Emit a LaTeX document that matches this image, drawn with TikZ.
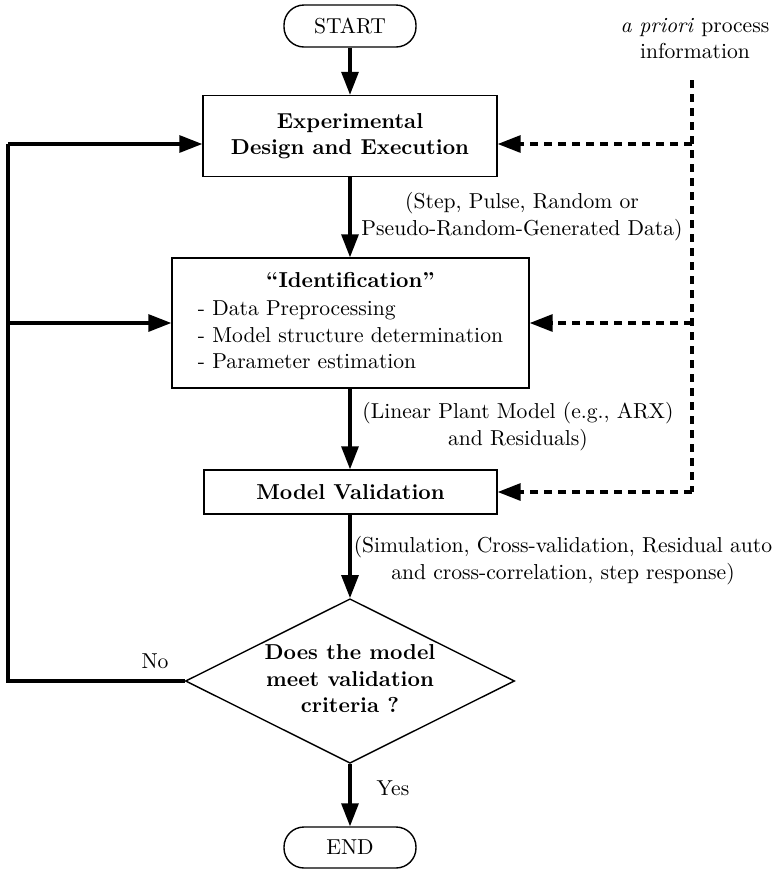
\documentclass[tikz,border=0pt]{standalone}
\usetikzlibrary{arrows.meta,shapes.geometric,calc}
\begin{document}
\begin{tikzpicture}[x=0.5pt,y=-0.5pt,
  every node/.append style={font=\fontsize{10.8}{13.2}\selectfont},
  term/.style={draw,line width=0.7pt,rounded corners=10pt,minimum width=66pt,minimum height=21pt,inner sep=0pt},
  procbox/.style={draw,line width=0.7pt,inner sep=0pt,align=center},
  decision/.style={draw,line width=0.7pt,diamond,aspect=2,inner sep=0pt,minimum width=163pt,minimum height=81.5pt,font=\fontsize{10.8}{13.2}\selectfont\bfseries},
  flow/.style={line width=1.6pt,-{Triangle[length=11.5pt,width=8.5pt]}},
  rail/.style={line width=1.6pt},
  info/.style={line width=1.6pt,dash pattern=on 4pt off 3pt},
  infoarrow/.style={info,-{Triangle[length=11.5pt,width=8.5pt]}},
  lbl/.style={align=center,inner sep=0pt}
]
\useasboundingbox (0,0) rectangle (779,869);

% main chain of steps
\node[term] (start) at (350,26) {START};
\node[procbox,minimum width=147pt,minimum height=40.5pt,font=\fontsize{10.8}{13.2}\selectfont\bfseries] (design) at (350,136) {Experimental\\Design and Execution};
\node[procbox,minimum width=178.5pt,minimum height=65pt] (ident) at (350.5,323)
  {\begin{tabular}{@{}l@{}}\multicolumn{1}{@{}c@{}}{\textbf{``Identification''}}\\[0.7pt]
   - Data Preprocessing\\ - Model structure determination\\ - Parameter estimation\end{tabular}};
\node[procbox,minimum width=146.5pt,minimum height=22pt,font=\fontsize{10.8}{13.2}\selectfont\bfseries] (valid) at (350.5,492) {Model Validation};
\node[decision] (check) at (350,681)
  {\raisebox{-2.5pt}{\begin{tabular}{@{}c@{}}Does the model\\meet validation\\criteria ?\end{tabular}}};
\node[term,minimum height=20.5pt] (finish) at (350,847.5) {END};

% forward arrows
\draw[flow] (start.south) -- (design.north);
\draw[flow] (design.south) -- (design.south |- ident.north);
\draw[flow] (ident.south -| design.south) -- (design.south |- valid.north);
\draw[flow] (design.south |- valid.south) -- (check.north);
\draw[flow] (check.south) -- (finish.north);

% edge labels
\node[lbl] (datalbl) at (522,216.5) {(Step, Pulse, Random or\\Pseudo-Random-Generated Data)};
\node[lbl] (modellbl) at (518,426.5) {(Linear Plant Model (e.g., ARX)\\and Residuals)};
\node[lbl] (testlbl) at (563,560.5) {(Simulation, Cross-validation, Residual auto\\and cross-correlation, step response)};
\node[lbl] (yes) at (393,788) {Yes};
\node[lbl] (no) at (155,661) {No};

% feedback rail on the left
\coordinate (railB) at (8,681);
\coordinate (railT) at (8,144);
\coordinate (railM) at (8,323);
\draw[rail,line join=miter] (check.west) -- (railB) -- (railT);
\draw[flow] (railT) -- (railT -| design.west);
\draw[flow] (railM) -- (ident.west);

% prior knowledge on the right
\node[lbl] (prior) at (695,38.5) {\textit{a priori} process\\information};
\coordinate (apT) at (692,80);
\coordinate (ap1) at (692,144);
\coordinate (ap2) at (692,323);
\coordinate (apB) at (692,492);
\draw[info] (apT) -- (apB);
\draw[infoarrow] (apB) -- (valid.east);
\draw[infoarrow] (ap1) -- (ap1 -| design.east);
\draw[infoarrow] (ap2) -- (ident.east);
\end{tikzpicture}
\end{document}
